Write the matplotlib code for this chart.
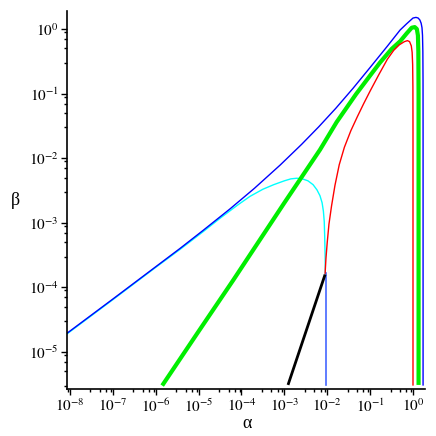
import numpy as np
import matplotlib
matplotlib.use("Agg")
import matplotlib.pyplot as plt
from matplotlib.ticker import LogLocator, FixedLocator, FuncFormatter, NullFormatter

plt.rcParams['mathtext.fontset'] = 'stix'
plt.rcParams['font.family'] = ['Liberation Serif', 'DejaVu Serif']

####################################################################################################
# curves, stored as log10(alpha), log10(beta)

blue_la = [-8.07, -7.0, -6.0, -5.43, -4.9, -4.27, -3.7, -3.1, -2.6, -2.2, -1.8, -1.4, -1.0,
           -0.6, -0.3, -0.15, 0.0, 0.07, 0.12, 0.16, 0.19, 0.21, 0.222, 0.23, 0.234, 0.235, 0.235]
blue_lb = [-4.71, -4.18, -3.68, -3.395, -3.12, -2.786, -2.467, -2.107, -1.787, -1.515, -1.227,
           -0.919, -0.595, -0.267, -0.015, 0.08, 0.17, 0.18, 0.17, 0.14, 0.09, 0.02, -0.1, -0.35,
           -0.8, -1.6, -5.51]

cyan_la = [-8.07, -7.0, -6.0, -5.43, -4.9, -4.5, -4.1, -3.8, -3.5, -3.25, -3.0, -2.85, -2.71,
           -2.58, -2.45, -2.33, -2.24, -2.17, -2.12, -2.09, -2.07, -2.06, -2.05, -2.045]
cyan_lb = [-4.72, -4.19, -3.69, -3.41, -3.14, -2.93, -2.73, -2.59, -2.48, -2.41, -2.35, -2.32,
           -2.31, -2.32, -2.35, -2.41, -2.49, -2.58, -2.69, -2.82, -2.98, -3.2, -3.5, -3.78]

green_la = [-5.85, -5.0, -4.19, -3.0, -2.17, -1.78, -1.33, -1.0, -0.77, -0.5, -0.30, -0.15,
            -0.03, 0.04, 0.09, 0.115, 0.125, 0.13, 0.13]
green_lb = [-5.52, -4.68, -3.885, -2.69, -1.87, -1.44, -1.01, -0.72, -0.52, -0.31, -0.19, -0.07,
            0.02, 0.03, 0.0, -0.1, -0.35, -1.0, -5.51]

red_la = [-2.05, -2.03, -2.0, -1.96, -1.90, -1.82, -1.72, -1.60, -1.45, -1.30, -1.15, -1.0,
          -0.8, -0.6, -0.45, -0.32, -0.2, -0.13, -0.08, -0.04, -0.02, -0.008, -0.002, 0.0, 0.0]
red_lb = [-3.78, -3.55, -3.30, -3.02, -2.74, -2.42, -2.10, -1.83, -1.575, -1.36, -1.155, -0.96,
          -0.71, -0.47, -0.33, -0.245, -0.195, -0.18, -0.195, -0.26, -0.36, -0.55, -0.9, -1.6, -5.51]

drop_la = [-2.03, -2.03]
drop_lb = [-3.78, -5.51]

black_la = [-2.915, -2.05]
black_lb = [-5.51, -3.80]

####################################################################################################

fig = plt.figure(figsize=(4.36, 4.36), dpi=100)
ax = fig.add_axes([67/436, 47/436, (425-67)/436, (389-11)/436])

def p(v):
    return 10.0 ** np.array(v)

ax.plot(p(cyan_la), p(cyan_lb), color='#00ffff', lw=1.0)
ax.plot(p(blue_la), p(blue_lb), color='#0000ff', lw=1.0)
ax.plot(p(drop_la), p(drop_lb), color='#4466ff', lw=1.2)
ax.plot(p(green_la), p(green_lb), color='#00ee00', lw=3.0, solid_capstyle='butt')
ax.plot(p(red_la), p(red_lb), color='#ff0000', lw=1.0)
ax.plot(p(black_la), p(black_lb), color='black', lw=2.0, solid_capstyle='butt')

ax.set_xscale('log')
ax.set_yscale('log')
ax.set_xlim(10**-8.07, 10**0.28)
ax.set_ylim(10**-5.573, 10**0.279)

for s in ['top', 'right']:
    ax.spines[s].set_visible(False)
for s in ['left', 'bottom']:
    ax.spines[s].set_linewidth(1.2)

ax.xaxis.set_major_locator(FixedLocator([10.0**k for k in range(-8, 1)]))
ax.yaxis.set_major_locator(FixedLocator([10.0**k for k in range(-5, 1)]))
ax.xaxis.set_minor_locator(LogLocator(base=10, subs=(3, 5, 7, 9), numticks=20))
ax.yaxis.set_minor_locator(LogLocator(base=10, subs=(3, 5, 7, 9), numticks=20))
ax.xaxis.set_minor_formatter(NullFormatter())
ax.yaxis.set_minor_formatter(NullFormatter())

fmt = FuncFormatter(lambda v, pos: r'$10^{%d}$' % int(round(np.log10(v))))
ax.xaxis.set_major_formatter(fmt)
ax.yaxis.set_major_formatter(fmt)

ax.tick_params(which='major', direction='out', length=4, width=1, labelsize=11, pad=2)
ax.tick_params(which='minor', direction='out', length=2.5, width=1)

fig.text(247/436, 1 - 423/436, 'α', ha='center', va='center', fontsize=13)
fig.text(15/436, 1 - 200/436, 'β', ha='center', va='center', fontsize=13)

fig.savefig('out.png', dpi=100)
